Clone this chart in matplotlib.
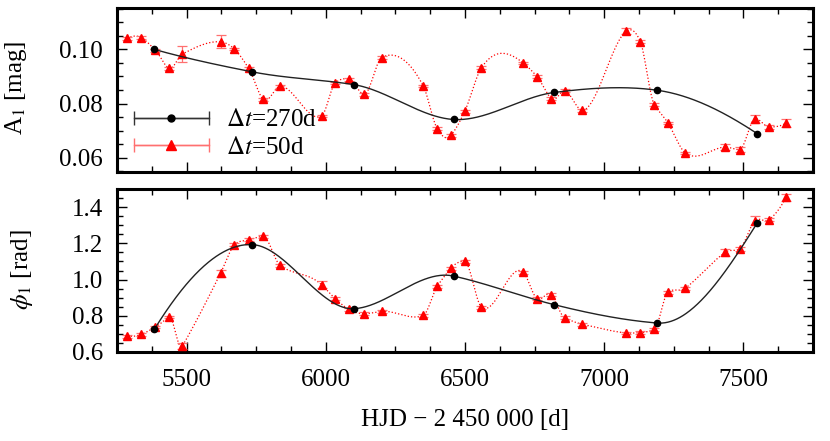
import numpy as np
import matplotlib
matplotlib.use("Agg")
import matplotlib.pyplot as plt
from matplotlib.ticker import MultipleLocator, FormatStrFormatter
from matplotlib.legend_handler import HandlerErrorbar

# ---------------- data ----------------
t_270 = [5384, 5736, 6100, 6460, 6821, 7191, 7549]
A_270 = [0.1000, 0.0917, 0.0870, 0.0741, 0.0841, 0.0849, 0.0689]
phi_270 = [0.725, 1.193, 0.839, 1.019, 0.861, 0.760, 1.311]

t_50 = [5287, 5338, 5388, 5437, 5485, 5622, 5672, 5723, 5774, 5836,
        5985, 6034, 6083, 6138, 6201, 6350, 6400, 6450, 6499, 6559,
        6709, 6759, 6810, 6858, 6922, 7080, 7130, 7180, 7229, 7292,
        7435, 7487, 7542, 7593, 7653]
A_50 = [0.1041, 0.1043, 0.0997, 0.0930, 0.0983, 0.1028, 0.1001, 0.0930, 0.0816, 0.0864,
        0.0754, 0.0876, 0.0890, 0.0834, 0.0970, 0.0865, 0.0707, 0.0683, 0.0771, 0.0932,
        0.0950, 0.0899, 0.0818, 0.0847, 0.0775, 0.1068, 0.1028, 0.0796, 0.0728, 0.0617,
        0.0639, 0.0630, 0.0744, 0.0713, 0.0728]
A_50_err = [0.0005, 0.0005, 0.0005, 0.0005, 0.0030, 0.0024, 0.0005, 0.0005, 0.0005, 0.0005,
            0.0005, 0.0005, 0.0005, 0.0005, 0.0005, 0.0005, 0.0005, 0.0005, 0.0005, 0.0005,
            0.0005, 0.0005, 0.0005, 0.0005, 0.0005, 0.0012, 0.0006, 0.0005, 0.0005, 0.0005,
            0.0011, 0.0010, 0.0015, 0.0006, 0.0014]
phi_50 = [0.6865, 0.6975, 0.738, 0.793, 0.633, 1.035, 1.192, 1.219, 1.239, 1.078,
          0.971, 0.894, 0.835, 0.8115, 0.824, 0.802, 0.962, 1.063, 1.100, 0.848,
          1.041, 0.894, 0.916, 0.789, 0.753, 0.705, 0.707, 0.725, 0.931, 0.953,
          1.151, 1.170, 1.326, 1.331, 1.454]
phi_50_err = [0.008, 0.008, 0.008, 0.008, 0.015, 0.020, 0.008, 0.008, 0.008, 0.008,
              0.020, 0.008, 0.008, 0.008, 0.008, 0.008, 0.008, 0.008, 0.008, 0.008,
              0.008, 0.008, 0.008, 0.008, 0.008, 0.008, 0.008, 0.008, 0.008, 0.008,
              0.020, 0.010, 0.023, 0.008, 0.018]

label_270 = r"$\Delta t$=270d"
label_50 = r"$\Delta t$=50d"


def akima(x, y, n=800):
    x = np.asarray(x, float)
    y = np.asarray(y, float)
    h = np.diff(x)
    m = np.diff(y) / h
    mm = np.concatenate([[3 * m[0] - 2 * m[1], 2 * m[0] - m[1]], m,
                         [2 * m[-1] - m[-2], 3 * m[-1] - 2 * m[-2]]])
    N = len(x)
    t = np.zeros(N)
    for i in range(N):
        w1 = abs(mm[i + 3] - mm[i + 2])
        w2 = abs(mm[i + 1] - mm[i])
        if w1 + w2 > 1e-15:
            t[i] = (w1 * mm[i + 1] + w2 * mm[i + 2]) / (w1 + w2)
        else:
            t[i] = 0.5 * (mm[i + 1] + mm[i + 2])
    xs = np.linspace(x[0], x[-1], n)
    i = np.clip(np.searchsorted(x, xs) - 1, 0, N - 2)
    hi = h[i]
    s = (xs - x[i]) / hi
    h00 = 2 * s ** 3 - 3 * s ** 2 + 1
    h10 = s ** 3 - 2 * s ** 2 + s
    h01 = -2 * s ** 3 + 3 * s ** 2
    h11 = s ** 3 - s ** 2
    ys = h00 * y[i] + h10 * hi * t[i] + h01 * y[i + 1] + h11 * hi * t[i + 1]
    return xs, ys


plt.rcParams['font.family'] = ['Liberation Serif', 'DejaVu Serif']
plt.rcParams['mathtext.fontset'] = 'stix'
FS = 18

fig = plt.figure(figsize=(8.3, 4.41), dpi=100)
W, H = 830, 441
L, R = 117 / W, 813 / W
ax1 = fig.add_axes([L, 1 - 172 / H, R - L, (172 - 8) / H])
ax2 = fig.add_axes([L, 1 - 352 / H, R - L, (352 - 189) / H])

RED = '#ff0000'
LRED = '#ff7070'

for ax, yb, yr, ye in [(ax1, A_270, A_50, A_50_err), (ax2, phi_270, phi_50, phi_50_err)]:
    xs, ys = akima(t_50, yr)
    ax.plot(xs, ys, ls=':', color=RED, lw=0.9, zorder=2)
    ax.errorbar(t_50, yr, yerr=ye, fmt='^', color=RED, ms=6, ecolor=LRED,
                elinewidth=0.9, capsize=3.5, capthick=0.9, zorder=3)
    xs, ys = akima(t_270, yb)
    ax.plot(xs, ys, ls='-', color='#222222', lw=1.0, zorder=4)
    ax.plot(t_270, yb, 'o', color='black', ms=4.5, zorder=5)

    ax.set_xlim(5250, 7750)
    ax.xaxis.set_major_locator(MultipleLocator(500))
    ax.xaxis.set_minor_locator(MultipleLocator(125))
    ax.tick_params(which='both', direction='in', top=True, right=True,
                   labelsize=FS, width=1.0)
    ax.tick_params(which='major', length=7)
    ax.tick_params(which='minor', length=4)
    ax.tick_params(axis='y', pad=10)
    ax.tick_params(axis='x', pad=12)
    for s in ax.spines.values():
        s.set_linewidth(2.2)

ax1.set_ylim(0.0547, 0.1153)
ax1.yaxis.set_major_locator(MultipleLocator(0.02))
ax1.yaxis.set_minor_locator(MultipleLocator(0.005))
ax1.yaxis.set_major_formatter(FormatStrFormatter('%.2f'))
ax1.tick_params(axis='x', labelbottom=False)

ax2.set_ylim(0.6, 1.5)
ax2.yaxis.set_major_locator(MultipleLocator(0.2))
ax2.yaxis.set_minor_locator(MultipleLocator(0.05))
ax2.yaxis.set_major_formatter(FormatStrFormatter('%.1f'))

# legend proxies
h1 = ax1.errorbar([np.nan], [np.nan], xerr=[1], fmt='-o', color='#333333', mfc='black',
                  mec='black', ms=5, lw=1.0, capsize=5, label=label_270)
h2 = ax1.errorbar([np.nan], [np.nan], xerr=[1], fmt='-^', color=LRED, mfc=RED,
                  mec=RED, ms=6.5, lw=1.0, capsize=5, label=label_50)
leg = ax1.legend(handles=[h1, h2], loc='upper left', bbox_to_anchor=(0.024, 0.385),
                 frameon=False, fontsize=FS, handlelength=3.0, handletextpad=0.7,
                 labelspacing=0.2, borderpad=0, borderaxespad=0, numpoints=1,
                 handler_map={type(h1): HandlerErrorbar(xerr_size=1.5)})

fig.text(0.019, 0.80, r"A$_1$ [mag]", rotation=90, ha='center', va='center', fontsize=FS)
fig.text(0.027, 0.388, r"$\phi_1$ [rad]", rotation=90, ha='center', va='center', fontsize=FS)
fig.text(0.56, 0.048, "HJD \u2212 2 450 000 [d]", ha='center', va='center', fontsize=FS)

fig.savefig('out.png', dpi=100)
